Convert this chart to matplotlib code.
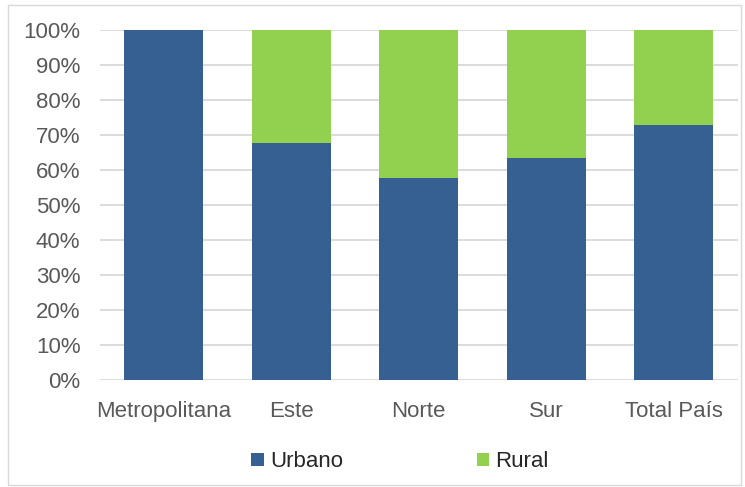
import matplotlib
matplotlib.use("Agg")
import matplotlib.pyplot as plt
from matplotlib.patches import Rectangle
from matplotlib.ticker import PercentFormatter

categories = ["Metropolitana", "Este", "Norte", "Sur", "Total País"]
urbano = [100.0, 67.7, 57.7, 63.5, 73.0]
rural = [0.0, 32.3, 42.3, 36.5, 27.0]

blue = "#366092"
green = "#92D050"
txt = "#595959"

plt.rcParams['font.family'] = ['Liberation Sans', 'DejaVu Sans']

fig = plt.figure(figsize=(7.45, 4.87), dpi=100)
ax = fig.add_axes([0.134, 0.219, 0.856, 0.719])

x = range(len(categories))
ax.bar(x, urbano, width=0.62, color=blue, label="Urbano", zorder=3)
ax.bar(x, rural, width=0.62, bottom=urbano, color=green, label="Rural", zorder=3)

ax.set_xlim(-0.5, len(categories) - 0.5)
ax.set_ylim(0, 100)
ax.set_yticks(range(0, 101, 10))
ax.yaxis.set_major_formatter(PercentFormatter(decimals=0))
ax.grid(axis='y', color="#D9D9D9", linewidth=1.3, zorder=0)
for s in ax.spines.values():
    s.set_visible(False)
ax.tick_params(axis='both', length=0, labelsize=16, labelcolor=txt)
ax.tick_params(axis='y', pad=14)
ax.tick_params(axis='x', pad=15)
ax.set_xticks(list(x))
ax.set_xticklabels(categories)

leg = fig.legend(loc='center', bbox_to_anchor=(0.537, 0.052), ncol=2, frameon=False,
                 fontsize=16, handlelength=0.55, handleheight=0.55, columnspacing=6.0,
                 handletextpad=0.3)
for t in leg.get_texts():
    t.set_color("#262626")

fig.patches.append(Rectangle((0.011, 0.004), 0.984, 0.986, transform=fig.transFigure,
                             fill=False, edgecolor="#D9D9D9", linewidth=1.0))

fig.savefig("out.png", dpi=100)
